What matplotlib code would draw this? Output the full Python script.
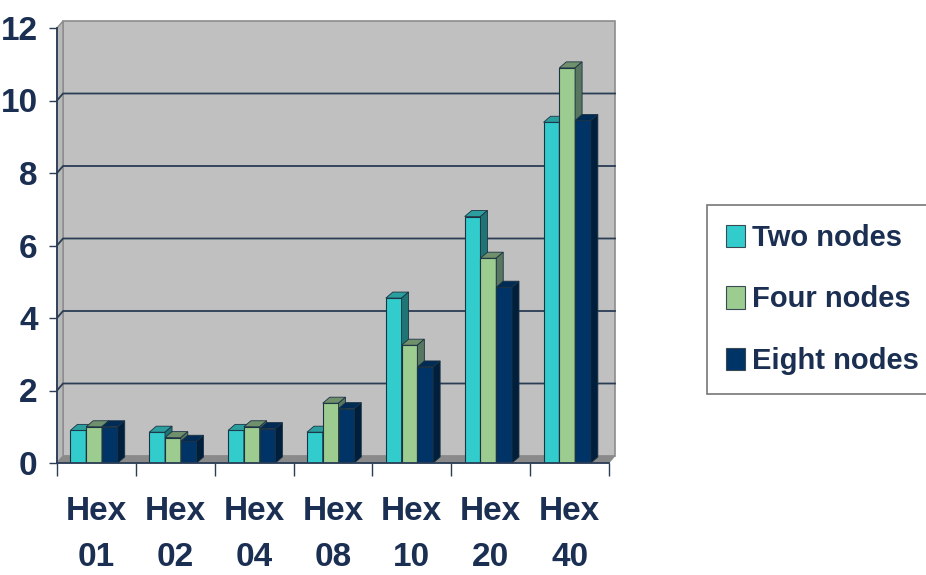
import numpy as np
import matplotlib
matplotlib.use('Agg')
import matplotlib.pyplot as plt
from matplotlib.patches import Polygon, Rectangle, Patch

plt.rcParams['font.family'] = ['Liberation Sans', 'DejaVu Sans']
plt.rcParams['font.weight'] = 'bold'

# ---- data ----
categories = ['Hex\n01', 'Hex\n02', 'Hex\n04', 'Hex\n08', 'Hex\n10', 'Hex\n20', 'Hex\n40']
two_nodes = [0.9, 0.85, 0.9, 0.85, 4.55, 6.8, 9.4]
four_nodes = [1.0, 0.7, 1.0, 1.65, 3.25, 5.65, 10.9]
eight_nodes = [1.0, 0.6, 0.95, 1.5, 2.65, 4.85, 9.45]
series_names = ['Two nodes', 'Four nodes', 'Eight nodes']
yticks = [0, 2, 4, 6, 8, 10, 12]

# colours: front, top, side
cols = [('#33cccc', '#2b9e9e', '#1f7474'),
        ('#9ccc8f', '#70906c', '#587660'),
        ('#003366', '#002b55', '#001f3d')]
txt = '#1b2f52'
fs = 24
fs_leg = 21

W, H = 926, 575
fig = plt.figure(figsize=(W / 100, H / 100), dpi=100)
L, R, B, T = 57, 609, 463, 28
ax = fig.add_axes([L / W, (H - B) / H, (R - L) / W, (B - T) / H])
ax.set_xlim(-0.5, 6.5)
ax.set_ylim(0, 12)
ax.patch.set_visible(False)

ux = (R - L) / 7.0
uy = (B - T) / 12.0
wdx, wdy = 6 / ux, 7 / uy      # back wall depth
bdx, bdy = 7 / ux, 6 / uy      # bar depth

# back wall, side wall, floor
ax.add_patch(Rectangle((-0.5 + wdx, wdy), 7, 12, facecolor='#c0c0c0',
                       edgecolor='#8c8c8c', lw=1.2, zorder=0, clip_on=False))
ax.add_patch(Polygon([(-0.5, 0), (-0.5 + wdx, wdy), (-0.5 + wdx, 12 + wdy), (-0.5, 12)],
                     closed=True, facecolor='#b9b9b9', edgecolor='#8c8c8c', lw=1,
                     zorder=0, clip_on=False))
ax.add_patch(Polygon([(-0.5, 0), (6.5, 0), (6.5 + wdx, wdy), (-0.5 + wdx, wdy)],
                     closed=True, facecolor='#8a8a8a', edgecolor='#8a8a8a', lw=0.5,
                     zorder=0.5, clip_on=False))
for v in yticks[1:-1]:
    ax.plot([-0.5, -0.5 + wdx, 6.5 + wdx], [v, v + wdy, v + wdy],
            color='#2a3d55', lw=1.3, zorder=1, clip_on=False)

# bars
x = np.arange(len(categories))
width = 0.2
offsets = [-0.33, -0.13, 0.07]
for s, vals in enumerate([two_nodes, four_nodes, eight_nodes]):
    front, top, side = cols[s]
    x0 = x + offsets[s]
    ax.bar(x0, vals, width=width, align='edge', color=front, edgecolor='#1c3344',
           lw=0.8, zorder=2 + s)
    for xi, h in zip(x0, vals):
        x1 = xi + width
        ax.add_patch(Polygon([(xi, h), (x1, h), (x1 + bdx, h + bdy), (xi + bdx, h + bdy)],
                             closed=True, facecolor=top, edgecolor='#1c3344', lw=0.6,
                             zorder=2 + s, clip_on=False))
        ax.add_patch(Polygon([(x1, 0), (x1 + bdx, bdy), (x1 + bdx, h + bdy), (x1, h)],
                             closed=True, facecolor=side, edgecolor='#1c3344', lw=0.6,
                             zorder=2 + s, clip_on=False))

# axes styling
for sp in ['top', 'right']:
    ax.spines[sp].set_visible(False)
ax.spines['left'].set_color('#2a3d55')
ax.spines['bottom'].set_color('#2a3d55')
ax.spines['left'].set_linewidth(1.3)
ax.spines['bottom'].set_linewidth(1.3)
ax.spines['bottom'].set_zorder(6)

ax.set_yticks(yticks)
ax.tick_params(axis='y', length=6, width=1, color='#2a3d55', pad=8,
               labelsize=fs, labelcolor=txt)
ax.set_xticks(x)
ax.set_xticklabels(categories, linespacing=1.6)
ax.set_xticks(np.arange(-0.5, 7, 1), minor=True)
ax.tick_params(axis='x', which='major', length=0, pad=24, labelsize=fs, labelcolor=txt)
ax.tick_params(axis='x', which='minor', length=9, width=1, color='#2a3d55')

handles = [Patch(facecolor=c[0], edgecolor='#3a4a55', lw=0.8) for c in cols]
leg = fig.legend(handles, series_names, loc='upper left',
                 bbox_to_anchor=(707 / W, 1 - 205 / H), fontsize=fs_leg,
                 frameon=True, fancybox=False, edgecolor='#555555',
                 handlelength=0.65, handleheight=0.8, handletextpad=0.25,
                 labelspacing=1.15, borderpad=0.65, borderaxespad=0)
for t in leg.get_texts():
    t.set_color(txt)
leg.get_frame().set_linewidth(1.2)

fig.savefig('out.png', dpi=100)
